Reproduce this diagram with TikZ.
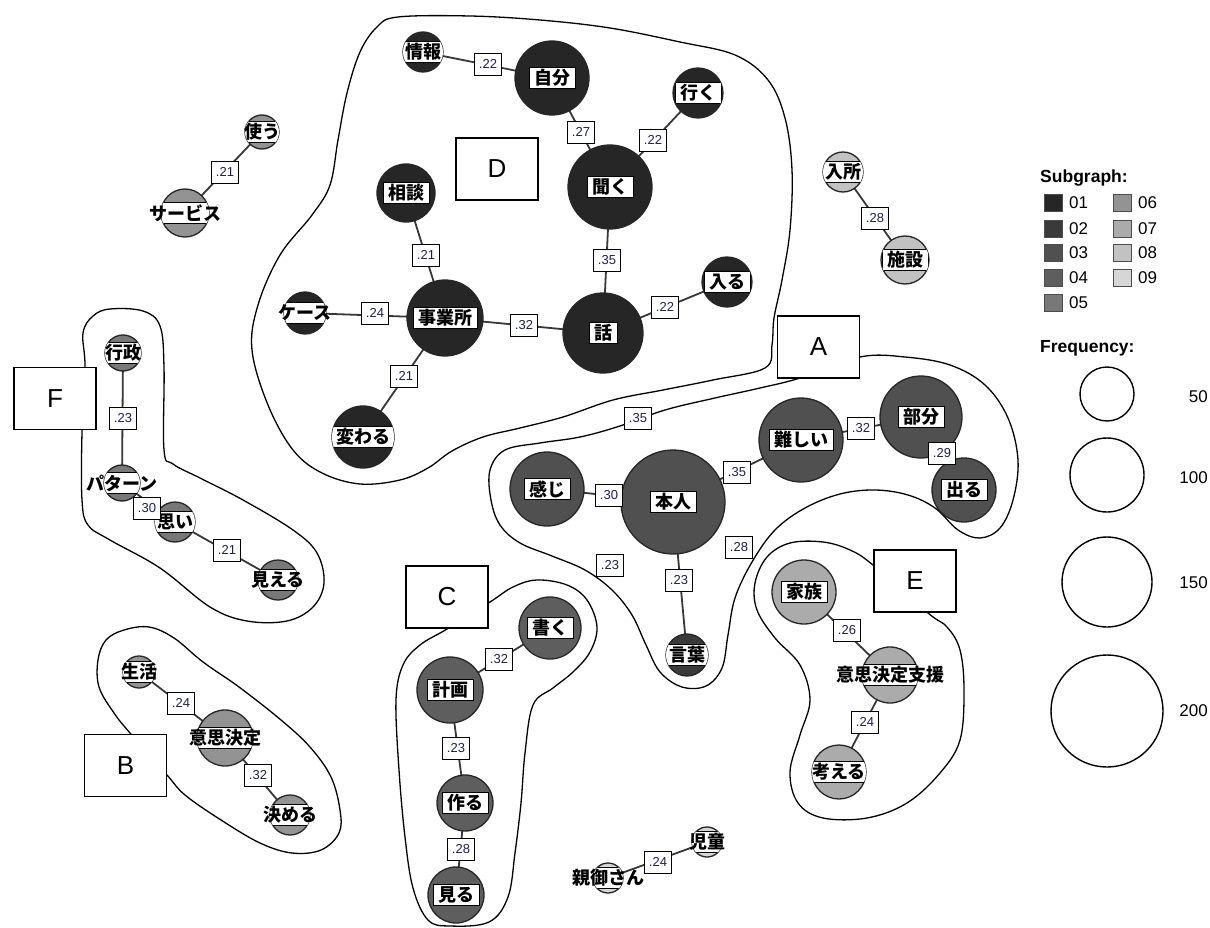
\documentclass[tikz,border=0pt]{standalone}
\usepackage{fontspec}
\setmainfont{Liberation Sans}
\newfontfamily\jp{Noto Sans CJK JP}
\pgfdeclarelayer{bg}
\pgfdeclarelayer{edges}
\pgfsetlayers{bg,edges,main}
\definecolor{c01}{HTML}{262626}
\definecolor{c02}{HTML}{3A3A3A}
\definecolor{c03}{HTML}{505050}
\definecolor{c04}{HTML}{5E5E5E}
\definecolor{c05}{HTML}{787878}
\definecolor{c06}{HTML}{939393}
\definecolor{c07}{HTML}{ABABAB}
\definecolor{c08}{HTML}{C2C2C2}
\definecolor{c09}{HTML}{D6D6D6}
\definecolor{navy}{HTML}{1F1F4F}
\newcommand\wordfont{\jp\bfseries\fontsize{18}{18}\selectfont}
\tikzset{
  wcirc/.style={circle, draw=black!85, line width=1.3pt, inner sep=0pt, outer sep=0pt},
  wbox/.style={draw=black, line width=1pt, fill=white, inner xsep=5pt, inner ysep=2pt, font=\wordfont},
  wtext/.style={inner xsep=5pt, inner ysep=2pt, font=\wordfont},
  elab/.style={draw=black, line width=0.9pt, fill=white, font=\fontsize{13}{13}\selectfont, text=navy, minimum width=27pt, minimum height=22pt, inner sep=1pt},
  edge/.style={draw=black!78, line width=1.8pt},
  hull/.style={draw=black, line width=1.3pt},
  gbox/.style={draw=black, line width=1.3pt, fill=white, font=\fontsize{26}{26}\selectfont, minimum width=82pt, minimum height=62pt, inner sep=0pt},
  lsq/.style={draw=black!70, line width=0.8pt, minimum width=18pt, minimum height=17pt, inner sep=0pt},
  ltxt/.style={anchor=west, font=\fontsize{17}{17}\selectfont, inner sep=0pt},
  lcirc/.style={circle, draw=black, line width=1.4pt, inner sep=0pt},
}
% name, x, y, r, colour, text
\newcommand\wn[6]{%
  \node[wcirc, fill=#5, minimum size=#4*2pt] (#1) at (#2,#3) {};
  \begin{scope}
    \clip (#2,#3) circle[radius=#4pt];
    \node[wbox] at (#2,#3) {\phantom{#6}};
  \end{scope}
  \node[wtext] (#1t) at (#2,#3) {#6};
}
\begin{document}
\begin{tikzpicture}[x=1pt,y=-1pt]
\useasboundingbox (0,0) rectangle (1210,928);

% ---------- hulls ----------
\begin{pgfonlayer}{bg}
\fill[white] (0,0) rectangle (1210,928);
\draw[hull] plot[smooth cycle, tension=0.6] coordinates {
 (398,17) (470,16) (540,20) (610,28) (680,42) (735,55) (768,80) (785,118)
 (792,170) (790,230) (782,280) (774,318) (772,345) (765,368) (713,380)
 (663,390) (613,400) (563,417) (520,428) (483,437) (452,451) (428,468)
 (400,480) (360,484) (322,473) (293,450) (268,405) (252,350) (258,305)
 (280,255) (312,215) (330,185) (338,140) (347,93) (360,52) (377,27)};
\draw[hull] plot[smooth cycle, tension=0.6] coordinates {
 (800,378) (760,388) (715,398) (665,410) (620,426) (580,437) (540,443)
 (505,450) (490,470) (491,500) (500,525) (520,543) (552,556) (585,570)
 (612,590) (632,615) (646,645) (660,672) (682,687) (706,686) (722,668)
 (728,635) (735,598) (752,562) (775,530) (805,508) (840,494) (875,490)
 (908,495) (935,508) (958,530) (980,538) (1000,528) (1013,500) (1018,460)
 (1008,418) (985,385) (950,365) (905,357) (860,357)};
\draw[hull] plot[smooth cycle, tension=0.6] coordinates {
 (873,565) (850,550) (823,542) (790,543) (767,557) (755,583) (757,610)
 (775,638) (800,665) (810,700) (800,735) (790,772) (798,803) (823,818)
 (867,818) (907,803) (940,773) (960,740) (964,690) (960,650) (947,627)
 (928,613)};
\draw[hull] plot[smooth cycle, tension=0.6] coordinates {
 (490,602) (513,587) (537,580) (567,585) (587,600) (597,627) (590,652)
 (573,672) (553,688) (533,705) (525,753) (521,803) (515,853) (508,897)
 (489,922) (450,926) (428,920) (413,888) (405,837) (399,770) (396,700)
 (403,665) (420,645) (447,629)};
\draw[hull] plot[smooth cycle, tension=0.6] coordinates {
 (130,733) (114,713) (99,687) (98,660) (106,640) (124,630) (149,627)
 (174,638) (203,662) (239,687) (281,720) (310,747) (331,777) (340,810)
 (339,833) (321,850) (292,853) (260,843) (221,820) (185,795) (167,775)};
\draw[hull] plot[smooth cycle, tension=0.6] coordinates {
 (85,367) (83,333) (93,316) (110,309) (143,311) (160,326) (164,367)
 (164,450) (173,464) (200,478) (243,500) (293,530) (317,553) (324,583)
 (313,607) (287,621) (247,621) (210,607) (160,568) (110,540) (88,525)
 (82,500) (82,432)};
\end{pgfonlayer}

% ---------- word nodes ----------
\wn{johou}{423}{52}{20}{c01}{情報}
\wn{jibun}{552}{78}{37}{c01}{自分}
\wn{iku}{698}{93}{25}{c01}{行く}
\wn{kiku}{610}{187}{42}{c01}{聞く}
\wn{soudan}{406}{193}{29}{c01}{相談}
\wn{case}{305}{313}{21}{c01}{ケース}
\wn{jigyo}{445}{318}{38}{c01}{事業所}
\wn{hanashi}{603}{333}{40}{c01}{話}
\wn{hairu}{727}{282}{25}{c01}{入る}
\wn{kawaru}{363}{437}{31}{c01}{変わる}

\wn{muzu}{801}{440}{42}{c03}{難しい}
\wn{bubun}{921}{417}{41}{c03}{部分}
\wn{deru}{964}{490}{32}{c03}{出る}
\wn{kanji}{547}{489}{37}{c03}{感じ}
\wn{honnin}{673}{502}{52}{c03}{本人}
\wn{kotoba}{687}{655}{21}{c02}{言葉}

\wn{kazoku}{804}{592}{32}{c07}{家族}
\wn{ishishien}{890}{675}{28}{c07}{意思決定支援}
\wn{kangaeru}{839}{772}{27}{c07}{考える}

\wn{gyosei}{123}{353}{18}{c05}{行政}
\wn{pattern}{122}{483}{18}{c05}{パターン}
\wn{omoi}{175}{522}{20}{c05}{思い}
\wn{mieru}{278}{580}{20}{c05}{見える}

\wn{tsukau}{262}{132}{17}{c06}{使う}
\wn{service}{185}{213}{24}{c06}{サービス}

\wn{nyusho}{843}{172}{20}{c08}{入所}
\wn{shisetsu}{905}{260}{24}{c08}{施設}

\wn{seikatsu}{139}{672}{16}{c06}{生活}
\wn{ishikettei}{225}{738}{28}{c06}{意思決定}
\wn{kimeru}{290}{815}{20}{c06}{決める}

\wn{keikaku}{450}{690}{33}{c04}{計画}
\wn{kaku}{550}{628}{31}{c04}{書く}
\wn{tsukuru}{465}{803}{28}{c04}{作る}
\wn{miru}{456}{895}{28}{c04}{見る}

\wn{oyago}{608}{878}{15}{c09}{親御さん}
\wn{jido}{707}{842}{15}{c09}{児童}

% ---------- connectors ----------
\begin{pgfonlayer}{edges}
\draw[edge] (johou) -- (jibun);
\draw[edge] (jibun) -- (kiku);
\draw[edge] (iku) -- (kiku);
\draw[edge] (soudan) -- (jigyo);
\draw[edge] (kiku) -- (hanashi);
\draw[edge] (case) -- (jigyo);
\draw[edge] (jigyo) -- (hanashi);
\draw[edge] (hanashi) -- (hairu);
\draw[edge] (jigyo) -- (kawaru);
\draw[edge] (muzu) -- (bubun);
\draw[edge] (bubun) -- (deru);
\draw[edge] (honnin) -- (muzu);
\draw[edge] (kanji) -- (honnin);
\draw[edge] (honnin) -- (kotoba);
\draw[edge] (kazoku) -- (ishishien);
\draw[edge] (ishishien) -- (kangaeru);
\draw[edge] (gyosei) -- (pattern);
\draw[edge] (pattern) -- (omoi);
\draw[edge] (omoi) -- (mieru);
\draw[edge] (tsukau) -- (service);
\draw[edge] (nyusho) -- (shisetsu);
\draw[edge] (seikatsu) -- (ishikettei);
\draw[edge] (ishikettei) -- (kimeru);
\draw[edge] (keikaku) -- (kaku);
\draw[edge] (keikaku) -- (tsukuru);
\draw[edge] (tsukuru) -- (miru);
\draw[edge] (oyago) -- (jido);
\end{pgfonlayer}

% ---------- connector labels ----------
\node[elab] (e1) at (488,64) {.22};
\node[elab] (e2) at (581,132) {.27};
\node[elab] (e3) at (653,140) {.22};
\node[elab] (e4) at (426,255) {.21};
\node[elab] (e5) at (607,260) {.35};
\node[elab] (e6) at (375,313) {.24};
\node[elab] (e7) at (524,325) {.32};
\node[elab] (e8) at (665,307) {.22};
\node[elab] (e9) at (404,376) {.21};
\node[elab] (e10) at (638,418) {.35};
\node[elab] (e11) at (861,428) {.32};
\node[elab] (e12) at (942,453) {.29};
\node[elab] (e13) at (737,472) {.35};
\node[elab] (e14) at (609,495) {.30};
\node[elab] (e15) at (739,547) {.28};
\node[elab] (e16) at (610,565) {.23};
\node[elab] (e17) at (679,580) {.23};
\node[elab] (e18) at (847,630) {.26};
\node[elab] (e19) at (865,722) {.24};
\node[elab] (e20) at (123,418) {.23};
\node[elab] (e21) at (147,508) {.30};
\node[elab] (e22) at (227,550) {.21};
\node[elab] (e23) at (225,172) {.21};
\node[elab] (e24) at (875,218) {.28};
\node[elab] (e25) at (181,703) {.24};
\node[elab] (e26) at (258,775) {.32};
\node[elab] (e27) at (499,659) {.32};
\node[elab] (e28) at (456,748) {.23};
\node[elab] (e29) at (461,849) {.28};
\node[elab] (e30) at (658,862) {.24};

% ---------- group boxes ----------
\node[gbox] (gA) at (818.5,347) {A};
\node[gbox] (gB) at (125.5,765.5) {B};
\node[gbox] (gC) at (447,597) {C};
\node[gbox] (gD) at (497,169) {D};
\node[gbox] (gE) at (915,581) {E};
\node[gbox] (gF) at (55,398.5) {F};

% ---------- legend ----------
\node[anchor=west, inner sep=0pt, font=\bfseries\fontsize{17.5}{17.5}\selectfont] (lsub) at (1040,178) {Subgraph:};
\node[lsq, fill=c01] (s01) at (1053,203) {};
\node[lsq, fill=c02] (s02) at (1053,229) {};
\node[lsq, fill=c03] (s03) at (1053,253) {};
\node[lsq, fill=c04] (s04) at (1053,278) {};
\node[lsq, fill=c05] (s05) at (1053,303) {};
\node[lsq, fill=c06] (s06) at (1122,203) {};
\node[lsq, fill=c07] (s07) at (1122,229) {};
\node[lsq, fill=c08] (s08) at (1122,253) {};
\node[lsq, fill=c09] (s09) at (1122,278) {};
\node[ltxt] (t01) at (1069,203) {01};
\node[ltxt] (t02) at (1069,229) {02};
\node[ltxt] (t03) at (1069,253) {03};
\node[ltxt] (t04) at (1069,278) {04};
\node[ltxt] (t05) at (1069,303) {05};
\node[ltxt] (t06) at (1138,203) {06};
\node[ltxt] (t07) at (1138,229) {07};
\node[ltxt] (t08) at (1138,253) {08};
\node[ltxt] (t09) at (1138,278) {09};
\node[anchor=west, inner sep=0pt, font=\bfseries\fontsize{17.5}{17.5}\selectfont] (lfreq) at (1040,348) {Frequency:};
\node[lcirc, minimum size=54pt] (f50) at (1107,394) {};
\node[lcirc, minimum size=74pt] (f100) at (1107,475) {};
\node[lcirc, minimum size=90pt] (f150) at (1107,582) {};
\node[lcirc, minimum size=112pt] (f200) at (1107,711) {};
\node[anchor=east, inner sep=0pt, font=\fontsize{17}{17}\selectfont] (n50) at (1208,397) {50};
\node[anchor=east, inner sep=0pt, font=\fontsize{17}{17}\selectfont] (n100) at (1208,478) {100};
\node[anchor=east, inner sep=0pt, font=\fontsize{17}{17}\selectfont] (n150) at (1208,583) {150};
\node[anchor=east, inner sep=0pt, font=\fontsize{17}{17}\selectfont] (n200) at (1208,711) {200};
\end{tikzpicture}
\end{document}
